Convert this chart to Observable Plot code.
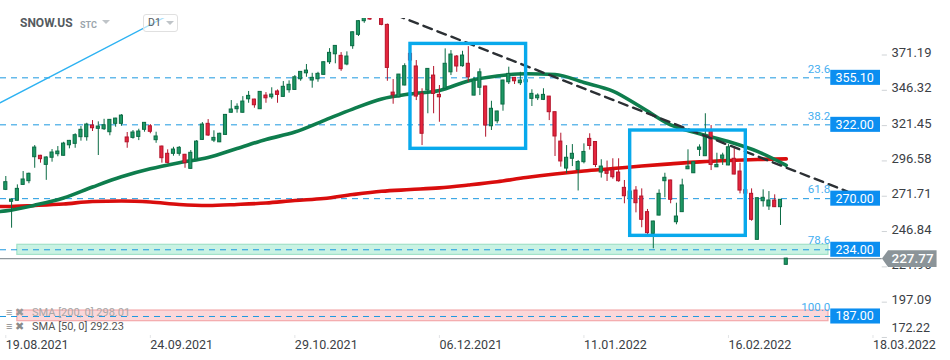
<!DOCTYPE html>
<html><head><meta charset="utf-8">
<script src="https://cdn.jsdelivr.net/npm/d3@7"></script>
<script src="https://cdn.jsdelivr.net/npm/@observablehq/plot@0.6"></script>
<style>
body{margin:0;background:#fff;font-family:Roboto,"Noto Sans",sans-serif}
#wrap{position:relative;width:950px;height:360px;overflow:hidden;background:#fff}
#chart svg{display:block}
.abs{position:absolute;white-space:nowrap}
.tri{position:absolute;width:0;height:0;border-left:4px solid transparent;border-right:4px solid transparent;border-top:4px solid #bfc4c8}
</style></head><body>
<div id="wrap">
  <div id="chart"></div>
  <div class="abs" style="left:20px;top:16px;font-size:12px;font-weight:700;color:#555b60">SNOW.US</div>
  <div class="abs" style="left:80px;top:19.5px;font-size:9px;font-weight:700;color:#9ba5ac">STC</div>
  <div class="tri" style="left:102px;top:20px"></div>
  <div class="abs" style="left:143px;top:14px;width:33px;height:16px;border:1px solid #e0e0e0;border-radius:3px;background:rgba(255,255,255,0.6)"></div>
  <div class="abs" style="left:148px;top:16px;font-size:10.5px;color:#555b60">D1</div>
  <div class="tri" style="left:166px;top:21px"></div>
  <div class="abs" style="left:6px;top:306px;font-size:11px;color:#9a9a9a">≡ ✖</div>
  <div class="abs" style="left:32px;top:306px;font-size:11px;color:#a8a8a8">SMA [200, 0] 298.01</div>
  <div class="abs" style="left:6px;top:320px;font-size:11px;color:#8a8a8a">≡ ✖</div>
  <div class="abs" style="left:32px;top:320px;font-size:11px;color:#555">SMA [50, 0] 292.23</div>
</div>
<script>
// ---- data (SNOW.US, D1) ----
const open = [276.2,267.8,268.5,279.7,282.3,299.2,300.2,293.8,298.8,301.3,
300.2,307.6,308.6,313.3,313.3,321.5,319.2,318.9,316.8,322.7,
322.7,313.1,312.8,313.5,318.5,321.0,311.2,306.7,301.6,301.6,
301.6,300.9,291.0,297.4,311.4,322.7,310.9,309.7,314.9,330.5,
333.0,330.5,340.0,339.8,333.0,342.6,341.4,345.5,341.7,346.4,
346.6,354.1,358.3,353.2,354.1,357.2,366.1,371.7,370.6,364.5,
377.4,385.4,395.0,401.0,400.0,400.0,392.4,344.7,341.4,349.7,
372.0,363.1,343.8,346.2,356.7,343.1,347.4,359.0,370.1,363.3,
365.0,342.6,348.1,349.0,321.0,324.5,336.3,352.0,355.1,351.3,
352.0,340.3,340.7,339.6,341.9,330.9,310.2,291.2,298.1,290.2,
295.7,312.1,309.9,288.4,289.5,290.2,288.4,277.6,270.0,275.7,
271.5,260.5,245.2,258.1,282.3,282.8,253.4,260.5,290.7,287.9,
304.4,299.9,318.0,292.1,298.1,293.4,298.1,289.1,276.0,273.4,
241.0,268.2,264.5,268.7,264.0,223.4];
const high = [285.6,269.6,279.7,289.1,288.0,307.4,300.5,299.5,304.6,306.7,
309.7,311.0,315.7,320.8,323.1,325.0,324.1,325.9,325.7,326.6,
329.2,316.6,318.0,318.9,323.6,322.2,316.8,307.0,304.4,306.2,
306.7,301.2,303.9,310.9,323.6,325.7,317.8,316.1,329.3,339.1,
336.8,341.9,345.5,340.0,345.4,344.7,348.1,346.6,352.5,353.0,
356.7,359.5,364.5,358.3,359.0,366.3,375.7,377.8,372.9,373.4,
387.4,395.5,405.0,404.0,405.0,403.0,393.0,353.9,357.5,365.0,
373.5,367.3,347.4,361.6,363.1,349.7,375.5,374.3,370.8,373.8,
377.1,355.5,361.4,349.2,338.6,331.6,353.4,362.6,355.3,359.0,
356.0,346.7,343.8,347.4,342.0,331.0,316.1,307.4,308.1,296.9,
308.6,315.7,310.1,297.4,296.5,298.1,298.1,282.8,277.0,278.5,
276.9,262.4,254.1,276.2,287.9,283.0,266.8,283.7,304.4,296.0,
307.9,329.8,321.5,302.0,302.0,308.1,306.2,295.0,278.0,276.9,
270.5,276.2,275.0,272.7,269.4,228.0];
const low = [275.7,249.2,268.3,279.5,280.5,291.4,295.0,282.9,295.7,299.5,
300.0,305.1,305.5,310.5,310.5,317.3,300.4,318.0,314.3,320.3,
321.0,305.5,311.9,310.9,316.8,315.7,309.0,295.0,294.5,299.9,
299.9,291.4,290.8,297.0,311.0,313.8,309.5,309.5,314.7,330.3,
330.2,330.3,337.2,333.7,332.8,337.2,340.0,337.2,341.5,344.3,
346.4,352.7,355.5,347.8,352.0,357.0,364.5,365.0,359.7,363.6,
375.2,384.2,393.5,395.5,398.0,391.8,352.7,336.5,341.0,349.5,
362.0,339.1,307.4,329.8,329.8,323.8,347.0,356.7,359.0,362.6,
352.0,342.4,342.6,313.3,318.0,322.7,331.6,350.4,350.4,349.7,
349.0,334.9,339.1,339.1,325.0,299.7,292.2,287.5,292.6,275.4,
294.5,304.2,291.9,284.5,282.1,283.7,281.6,266.4,268.0,260.0,
249.5,244.0,234.7,257.8,270.6,266.4,251.6,260.3,290.5,287.7,
299.7,299.7,289.8,291.9,293.4,293.2,286.8,273.4,272.0,254.1,
240.8,264.0,261.7,263.8,251.1,223.2];
const close = [281.6,269.4,276.9,283.5,287.5,306.0,297.8,299.0,302.5,303.2,
308.8,310.7,314.7,318.5,322.2,319.6,320.8,321.7,325.5,326.4,
328.5,309.7,316.6,317.3,323.4,317.1,313.8,298.5,295.2,304.6,
305.8,295.0,302.3,310.2,322.2,314.5,312.8,315.7,329.0,332.8,
334.7,338.4,342.4,335.8,345.2,340.7,343.3,343.1,348.8,350.2,
355.5,359.3,360.2,355.1,357.9,366.1,372.7,377.6,361.2,370.1,
387.2,395.0,399.0,396.2,402.0,392.4,362.1,342.8,357.4,363.3,
367.3,341.9,315.7,361.4,343.8,341.4,365.0,371.5,363.1,370.8,
355.5,353.2,359.0,321.5,333.3,331.4,353.2,357.9,352.7,353.2,
353.5,343.8,342.6,343.1,330.9,313.8,296.2,298.8,301.6,295.8,
302.9,307.1,293.7,292.6,287.5,285.1,282.3,271.7,275.0,266.8,
255.1,245.7,253.9,273.4,284.7,269.2,257.4,279.3,292.6,295.7,
306.0,313.8,293.8,293.8,300.4,306.2,287.0,275.7,273.5,255.1,
270.3,270.6,268.7,264.0,269.2,227.77];

const smaIdx = [-1,0,5,10,15,20,25,30,35,40,45,50,55,60,65,70,75,80,85,90,95,100,105,110,115,120,125,130,135];
const sma50  = [260.9,261.4,265.4,270.5,278.2,285.4,291.0,295.3,299.0,305.3,311.7,316.9,325.0,333.1,340.2,343.8,346.2,352.9,356.4,358.0,357.5,351.8,345.8,334.2,321.9,315.7,310.2,303.3,293.5];
const sma200 = [264.5,264.5,265.2,266.2,268.0,268.3,267.6,265.9,265.2,265.9,266.9,268.7,270.1,272.9,275.2,276.4,277.6,279.6,281.9,284.9,287.4,289.5,291.2,293.0,294.5,295.9,296.9,297.6,298.0];

const fibLevels = [355.10, 322.00, 270.00, 234.00, 187.00];
const fibPcts = ["23.6", "38.2", "61.8", "78.6", "100.0"];
const yTicks = [371.19, 346.32, 321.45, 296.58, 271.71, 246.84, 221.96, 197.09, 172.22];
const dateLabels = ["19.08.2021", "24.09.2021", "29.10.2021", "06.12.2021", "11.01.2022", "16.02.2022", "18.03.2022"];
const dateIdx = [0, 25, 50, 75, 100, 125, 150];
const lastPrice = 227.77;
const supportZone = [230.4, 237.5];
const lowZone = [183.7, 191.2];
const boxStart = [70, 108], boxEnd = [90, 128], boxLow = [305.1, 243.8], boxHigh = [379.0, 318.0];
const trendIdx = [65, 145.6], trendVal = [403.3, 275.0];
const channelIdx = [-1, 30], channelVal = [337.5, 403.1];

// ---- build tables ----
const candles = open.map((o, i) => ({i, open: o, high: high[i], low: low[i], close: close[i]}));
const up = candles.filter(d => d.close >= d.open);
const down = candles.filter(d => d.close < d.open);
const s50 = smaIdx.map((i, k) => ({i, v: sma50[k]}));
const s200 = smaIdx.map((i, k) => ({i, v: sma200[k]}));
const boxes = boxStart.map((s, k) => ({i1: s, i2: boxEnd[k], p1: boxLow[k], p2: boxHigh[k]}));
const trend = trendIdx.map((i, k) => ({i, p: trendVal[k]}));
const channel = channelIdx.map((i, k) => ({i, p: channelVal[k]}));
const fib = fibLevels.map((p, k) => ({p, pct: fibPcts[k]}));
const dates = dateIdx.map((i, k) => ({i, label: dateLabels[k]}));

const X0 = -0.917, X1 = 151.3;   // plot x domain (bar index)
const LBL = 142.7;               // where the level labels begin
const halfBox = 5.3;             // half height of value boxes (price units)
const priceTag = [
  {i: 151.55, p: lastPrice},
  {i: 152.6, p: lastPrice + 5.9},
  {i: 161.0, p: lastPrice + 5.9},
  {i: 161.0, p: lastPrice - 5.9},
  {i: 152.6, p: lastPrice - 5.9},
  {i: 151.55, p: lastPrice}
];

const GREEN_F = "#1d9864", GREEN_S = "#0b6b44", RED_F = "#e5263d", RED_S = "#b3142b";

const chart = Plot.plot({
  width: 950, height: 360,
  marginLeft: 0, marginRight: 70, marginTop: 18, marginBottom: 22,
  x: {domain: [X0, X1], axis: null},
  y: {domain: [171.5, 396.9], axis: null},
  style: {fontFamily: "Roboto, 'Noto Sans', sans-serif", background: "#fff"},
  marks: [
    // zones
    Plot.rect([supportZone], {x1: () => 2, x2: () => 142.3, y1: d => d[0], y2: d => d[1], fill: "#c9f2e3", stroke: "#a2e2c8", strokeWidth: 1.2}),
    Plot.rect([lowZone], {x1: () => 2, x2: () => 142.3, y1: d => d[0], y2: d => d[1], fill: "#fbd7d9", stroke: "#f3a9ab", strokeWidth: 1.2}),
    // fibonacci levels
    Plot.ruleY(fib, {y: "p", x1: () => X0, x2: () => LBL, stroke: "#1c98e0", strokeWidth: 1, strokeDasharray: "6,5"}),
    // current price line
    Plot.ruleY([lastPrice], {x1: () => X0, x2: () => 151.6, stroke: "#8f979c", strokeWidth: 1.4}),
    // moving averages
    Plot.line(s200, {x: "i", y: "v", stroke: "#d90d0d", strokeWidth: 3.6, curve: "monotone-x", clip: true}),
    Plot.line(s50, {x: "i", y: "v", stroke: "#0e7d4d", strokeWidth: 3.6, curve: "monotone-x", clip: true}),
    // candles
    Plot.ruleX(up, {x: "i", y1: "low", y2: "high", stroke: GREEN_S, strokeWidth: 1, clip: true}),
    Plot.ruleX(down, {x: "i", y1: "low", y2: "high", stroke: RED_S, strokeWidth: 1, clip: true}),
    Plot.rect(up, {x1: d => d.i - 0.27, x2: d => d.i + 0.27, y1: "open", y2: "close", fill: GREEN_F, stroke: GREEN_S, strokeWidth: 1, clip: true}),
    Plot.rect(down, {x1: d => d.i - 0.27, x2: d => d.i + 0.27, y1: "close", y2: "open", fill: RED_F, stroke: RED_S, strokeWidth: 1, clip: true}),
    // drawings
    Plot.line(channel, {x: "i", y: "p", stroke: "#2db2f2", strokeWidth: 1.3, clip: true}),
    Plot.line(trend, {x: "i", y: "p", stroke: "#2c3034", strokeWidth: 2.4, strokeDasharray: "9,6", clip: true}),
    Plot.rect(boxes, {x1: "i1", x2: "i2", y1: "p1", y2: "p2", fill: "none", stroke: "#08a9ec", strokeWidth: 3.4}),
    // level labels
    Plot.text(fib, {x: () => LBL - 0.1, y: "p", text: "pct", textAnchor: "end", dy: -9, fill: "#45aef0", fontSize: 11.5}),
    Plot.rect(fib, {x1: () => LBL, x2: () => X1, y1: d => d.p - halfBox, y2: d => d.p + halfBox, fill: "#0b8ef0"}),
    Plot.text(fib, {x: () => LBL + 0.8, y: "p", text: d => d.p.toFixed(2), textAnchor: "start", fill: "#fff", fontSize: 12.5}),
    // right axis
    Plot.ruleY(yTicks, {x1: () => 151.6, x2: () => 152.5, stroke: "#cfd3d6"}),
    Plot.text(yTicks.slice(0, -1), {x: () => 153.2, y: d => d, text: d => d.toFixed(2), textAnchor: "start", fill: "#3b4045", fontSize: 13, dy: -2}),
    Plot.text(yTicks.slice(-1), {x: () => 153.2, y: d => d, text: d => d.toFixed(2), textAnchor: "start", fill: "#3b4045", fontSize: 12.5, dy: -9}),
    // last price tag
    Plot.line(priceTag, {x: "i", y: "p", fill: "#8b9499", stroke: "none"}),
    Plot.text([lastPrice], {x: () => 153.2, y: d => d, text: d => d.toFixed(2), textAnchor: "start", fill: "#fff", fontSize: 13.5, fontWeight: 500}),
    // date axis
    Plot.ruleX(dates, {x: "i", y1: () => 173.6, y2: () => 171.5, stroke: "#e2e4e6"}),
    Plot.text(dates, {x: "i", frameAnchor: "bottom", text: "label", textAnchor: "start", lineAnchor: "middle", dy: 6, fill: "#3b4045", fontSize: 12.5})
  ]
});
document.getElementById("chart").appendChild(chart);
</script>
</body></html>
